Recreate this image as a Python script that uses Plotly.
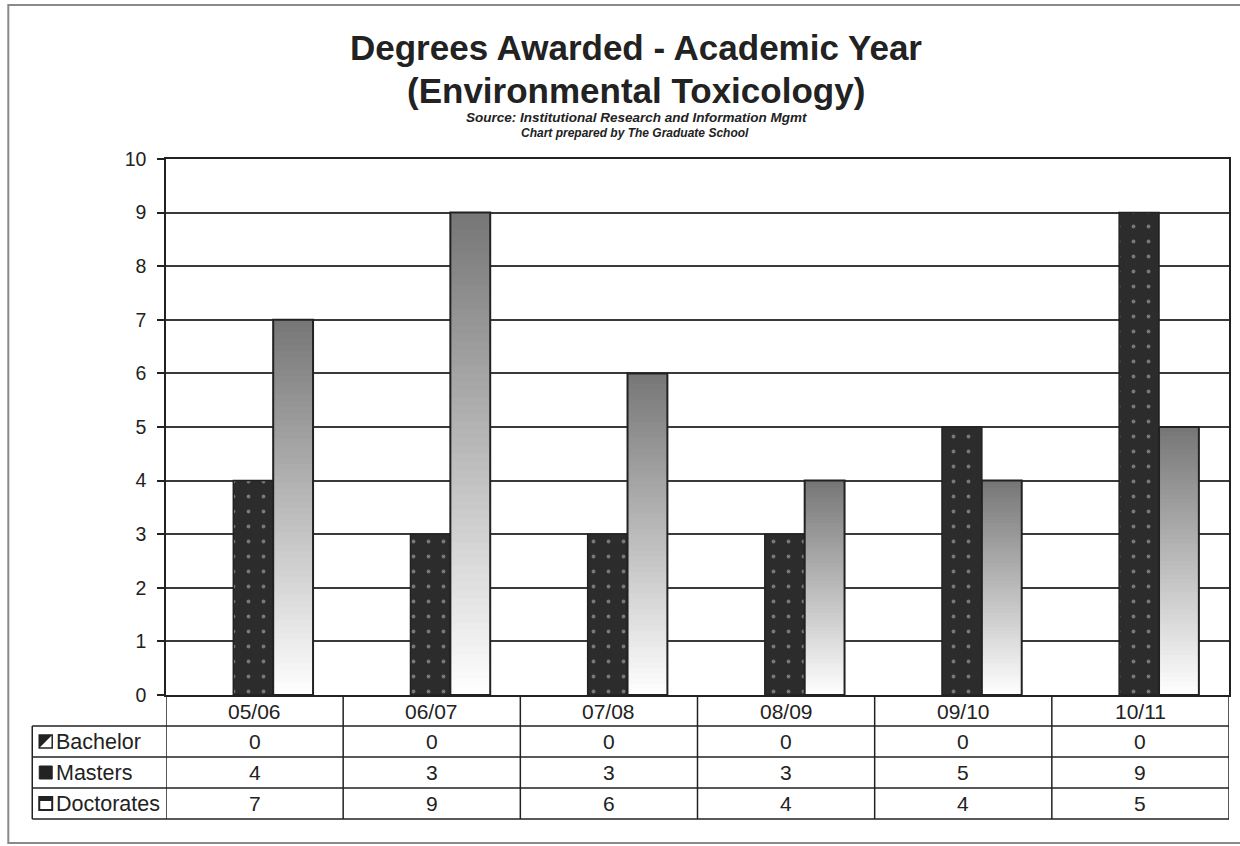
import plotly.graph_objects as go

# ---- data -------------------------------------------------------------
years = ["05/06", "06/07", "07/08", "08/09", "09/10", "10/11"]
bachelor = [0, 0, 0, 0, 0, 0]
masters = [4, 3, 3, 3, 5, 9]
doctorates = [7, 9, 6, 4, 4, 5]
series_names = ["Bachelor", "Masters", "Doctorates"]
y_tick_values = list(range(0, 11))

title_lines = ["Degrees Awarded - Academic Year", "(Environmental Toxicology)"]
source_line = "Source: Institutional Research and Information Mgmt"
prepared_line = "Chart prepared by The Graduate School"

# ---- geometry helpers (pixel -> paper) --------------------------------
W, H = 1240, 846
L, R, T, B = 166, 1231, 159, 695


def px(x):
    return (x - L) / (R - L)


def py(y):
    return (B - y) / (B - T)


FONT = "Liberation Sans, Arial, sans-serif"
INK = "#222222"
xs = list(range(len(years)))
BAR_W = 0.225
OFF_B, OFF_M, OFF_D = -0.345, -0.12, 0.105

fig = go.Figure()

# Bachelor (all zero)
fig.add_bar(x=xs, y=bachelor, offset=OFF_B, width=BAR_W, name=series_names[0],
            marker=dict(color="#555555", line=dict(width=0)), hoverinfo="skip")

# Masters: dark fill with a sparse dotted pattern
fig.add_bar(x=xs, y=masters, offset=OFF_M, width=BAR_W, name=series_names[1],
            marker=dict(color="#2c2c2c",
                        pattern=dict(shape=".", fgcolor="#c4c4c4", bgcolor="#2c2c2c",
                                     size=15, solidity=0.05),
                        line=dict(color=INK, width=1.5)),
            hoverinfo="skip")

# Doctorates: vertical grey-to-white gradient.  Each layer starts at zero and
# reaches a fraction of the value; the shorter, lighter layers are drawn on top.
N = 60
top_level, bottom_level = 118, 255
for k in reversed(range(N)):
    t = (k + 0.5) / N
    g = round(bottom_level + (top_level - bottom_level) * t)
    fig.add_bar(x=xs, y=[d * (k + 1) / N for d in doctorates],
                offset=OFF_D, width=BAR_W,
                marker=dict(color=f"rgb({g},{g},{g})", line=dict(width=0)),
                hoverinfo="skip", showlegend=False)
fig.add_bar(x=xs, y=doctorates, offset=OFF_D, width=BAR_W, name=series_names[2],
            marker=dict(color="rgba(0,0,0,0)", line=dict(color=INK, width=2)),
            hoverinfo="skip")

shapes = []
annotations = []

# outer chart frame
shapes.append(dict(type="rect", xref="paper", yref="paper",
                   x0=px(8), x1=px(1260), y0=py(843), y1=py(5),
                   line=dict(color="#8a8a8a", width=2), layer="below"))

# data table grid
row_edges = [695, 726, 757, 788, 819]
for yy in row_edges[1:]:
    shapes.append(dict(type="line", xref="paper", yref="paper",
                       x0=px(32), x1=px(R), y0=py(yy), y1=py(yy),
                       line=dict(color=INK, width=1.5)))
for xv in [i - 0.5 for i in range(len(years) + 1)]:
    shapes.append(dict(type="line", xref="x", yref="paper",
                       x0=xv, x1=xv, y0=py(819), y1=py(695),
                       line=dict(color=INK, width=1.5)))
shapes.append(dict(type="line", xref="paper", yref="paper",
                   x0=px(32), x1=px(32), y0=py(819), y1=py(726),
                   line=dict(color=INK, width=1.5)))

TABLE_FONT = dict(size=21, color=INK, family=FONT)

# header row (category labels)
for i, lab in enumerate(years):
    annotations.append(dict(x=i, y=py(711), xref="x", yref="paper", text=lab,
                            showarrow=False, font=TABLE_FONT,
                            xanchor="center", yanchor="middle"))

# value rows
for r, vals in enumerate([bachelor, masters, doctorates]):
    yc = py((row_edges[r + 1] + row_edges[r + 2]) / 2)
    for i, v in enumerate(vals):
        annotations.append(dict(x=i, y=yc, xref="x", yref="paper", text=str(v),
                                showarrow=False, font=TABLE_FONT,
                                xanchor="center", yanchor="middle"))
    annotations.append(dict(x=px(54), y=yc, xref="paper", yref="paper",
                            text=series_names[r], showarrow=False,
                            font=dict(size=21.5, color=INK, family=FONT),
                            xanchor="left", yanchor="middle"))

# legend keys in the table
kx0, kx1 = 39, 52
# Bachelor key: framed square with a dark diagonal half
c = (row_edges[1] + row_edges[2]) / 2
shapes.append(dict(type="rect", xref="paper", yref="paper", x0=px(kx0), x1=px(kx1),
                   y0=py(c + 6.5), y1=py(c - 6.5), fillcolor="white",
                   line=dict(color=INK, width=1.5)))
shapes.append(dict(type="path", xref="paper", yref="paper",
                   path=f"M {px(kx0)} {py(c + 6.5)} L {px(kx0)} {py(c - 6.5)} "
                        f"L {px(kx1)} {py(c - 6.5)} Z",
                   fillcolor=INK, line=dict(width=0)))
# Masters key: solid square
c = (row_edges[2] + row_edges[3]) / 2
shapes.append(dict(type="rect", xref="paper", yref="paper", x0=px(kx0), x1=px(kx1),
                   y0=py(c + 6.5), y1=py(c - 6.5), fillcolor=INK,
                   line=dict(color=INK, width=1)))
# Doctorates key: open square with dark top band
c = (row_edges[3] + row_edges[4]) / 2
shapes.append(dict(type="rect", xref="paper", yref="paper", x0=px(kx0), x1=px(kx1),
                   y0=py(c + 6.5), y1=py(c - 6.5), fillcolor="white",
                   line=dict(color=INK, width=2)))
shapes.append(dict(type="rect", xref="paper", yref="paper", x0=px(kx0), x1=px(kx1),
                   y0=py(c - 2.5), y1=py(c - 6.5), fillcolor=INK,
                   line=dict(width=0)))

# titles
annotations += [
    dict(x=px(637), y=py(47), xref="paper", yref="paper", text=f"<b>{title_lines[0]}</b>",
         showarrow=False, font=dict(size=35, color=INK, family=FONT),
         xanchor="center", yanchor="middle"),
    dict(x=px(637), y=py(91), xref="paper", yref="paper", text=f"<b>{title_lines[1]}</b>",
         showarrow=False, font=dict(size=35, color=INK, family=FONT),
         xanchor="center", yanchor="middle"),
    dict(x=px(637), y=py(118), xref="paper", yref="paper", text=f"<b><i>{source_line}</i></b>",
         showarrow=False, font=dict(size=13.5, color=INK, family=FONT),
         xanchor="center", yanchor="middle"),
    dict(x=px(636), y=py(133), xref="paper", yref="paper", text=f"<b><i>{prepared_line}</i></b>",
         showarrow=False, font=dict(size=12, color=INK, family=FONT),
         xanchor="center", yanchor="middle"),
]

fig.update_layout(
    width=W, height=H,
    margin=dict(l=L, r=W - R, t=T, b=H - B),
    paper_bgcolor="white", plot_bgcolor="white",
    barmode="overlay", showlegend=False,
    font=dict(family=FONT, color=INK),
    shapes=shapes, annotations=annotations,
    xaxis=dict(range=[-0.5, len(years) - 0.5], showticklabels=False, ticks="",
               showgrid=False, zeroline=False, showline=True, linecolor=INK,
               linewidth=1.5, mirror=True, fixedrange=True),
    yaxis=dict(range=[0, 10], tickvals=y_tick_values, ticks="outside", ticklen=7,
               tickcolor=INK, tickwidth=1.5, tickfont=dict(size=19.5, color=INK, family=FONT),
               ticklabelstandoff=7,
               showgrid=True, gridcolor="#3a3a3a", gridwidth=1.5, zeroline=False,
               showline=True, linecolor=INK, linewidth=1.5, mirror=True, fixedrange=True),
)

fig.write_html("out.html")
